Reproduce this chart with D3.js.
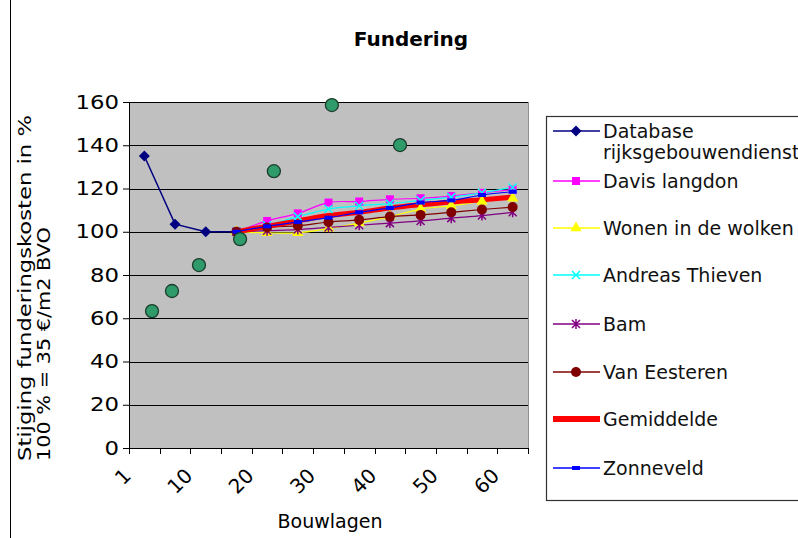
<!DOCTYPE html>
<html>
<head>
<meta charset="utf-8">
<script src="https://cdnjs.cloudflare.com/ajax/libs/d3/7.8.5/d3.min.js"></script>
<style>
  body { margin: 0; background: #fff; }
  svg { font-family: "DejaVu Sans", Verdana, sans-serif; }
</style>
</head>
<body>
<div id="vis"></div>
<script>
// data
const CATEGORIES = ["1", "5", "10", "15", "20", "25", "30", "35", "40", "45", "50", "55", "60"];
const TICK_LABELS = ["1", "10", "20", "30", "40", "50", "60"];
const Y_TICKS = [0, 20, 40, 60, 80, 100, 120, 140, 160];

const DATABASE     = [135, 103.5, 100, 100, null, null, null, null, null, null, null, null, null];
const DAVIS        = [null, null, null, 100, 105, 108.5, 113.5, 114, 115, 115.5, 116.5, 118, 119.5];
const WONEN        = [null, null, null, 100, 99.5, 99.5, 101.5, 104, 107, 110.5, 112, 114, 115.5];
const ANDREAS      = [null, null, null, 100, 103, 107, 110.5, 112, 113, 114.5, 116, 118, 120.5];
const BAM          = [null, null, null, 100, 100.5, 101, 102, 103, 104, 105, 106.3, 107.5, 109];
const VAN_EESTEREN = [null, null, null, 100, 102, 102.8, 104.5, 105.5, 107, 107.8, 109, 110.3, 111.4];
const GEMIDDELDE   = [null, null, null, 100, 102.5, 105, 107.5, 109, 111, 112.5, 113.8, 114.8, 116];
const ZONNEVELD    = [null, null, null, 100, 102.5, 104.5, 106.5, 109, 111, 113.5, 114.5, 117, 118.5];

// loose green points (position in category units, value)
const GREEN_X = [0.25, 0.9, 1.78, 3.12, 4.22, 6.11, 8.33];
const GREEN_Y = [63.3, 72.6, 84.6, 96.6, 128, 158.6, 140.1];

const WIDTH = 798, HEIGHT = 538;
const PLOT = {left: 129, right: 528, top: 102, bottom: 448};

const svg = d3.select("#vis").append("svg")
    .attr("width", WIDTH)
    .attr("height", HEIGHT);

// left frame line
svg.append("line").attr("x1", 10.5).attr("x2", 10.5).attr("y1", 0).attr("y2", HEIGHT)
    .attr("stroke", "#000").attr("stroke-width", 1);

const X = d3.scaleBand().domain(CATEGORIES).range([PLOT.left, PLOT.right]).paddingInner(0).paddingOuter(0);
const XC = (i) => X(CATEGORIES[i]) + X.bandwidth() / 2;
const XS = d3.scaleLinear().domain([-0.5, CATEGORIES.length - 0.5]).range([PLOT.left, PLOT.right]);
const Y = d3.scaleLinear().domain([0, 160]).range([PLOT.bottom, PLOT.top]);

// plot background
svg.append("rect")
    .attr("x", PLOT.left).attr("y", PLOT.top)
    .attr("width", PLOT.right - PLOT.left).attr("height", PLOT.bottom - PLOT.top)
    .attr("fill", "#c0c0c0");
svg.append("line").attr("x1", PLOT.right + 0.5).attr("x2", PLOT.right + 0.5)
    .attr("y1", PLOT.top).attr("y2", PLOT.bottom).attr("stroke", "#909090");

// gridlines
svg.append("g").selectAll("line").data(Y_TICKS.filter(d => d > 0)).enter().append("line")
    .attr("x1", PLOT.left).attr("x2", PLOT.right)
    .attr("y1", d => Math.round(Y(d)) + 0.5).attr("y2", d => Math.round(Y(d)) + 0.5)
    .attr("stroke", "#000").attr("stroke-width", 1.2);

// y axis
const yAxis = svg.append("g")
    .attr("transform", "translate(" + PLOT.left + ",0)")
    .call(d3.axisLeft(Y).tickValues(Y_TICKS).tickSize(6).tickPadding(4));
yAxis.selectAll("text").attr("font-size", "19px").attr("fill", "#000")
    .attr("font-family", "DejaVu Sans")
    .attr("textLength", d => String(d).length * 14.5)
    .attr("lengthAdjust", "spacingAndGlyphs");
yAxis.selectAll("line, path").attr("stroke", "#000");

// x axis: ticks between categories
const xEdges = d3.range(CATEGORIES.length + 1);
svg.append("line").attr("x1", PLOT.left).attr("x2", PLOT.right)
    .attr("y1", PLOT.bottom + 0.5).attr("y2", PLOT.bottom + 0.5).attr("stroke", "#000");
svg.append("g").selectAll("line").data(xEdges).enter().append("line")
    .attr("x1", d => Math.round(XS(d - 0.5)) + 0.5).attr("x2", d => Math.round(XS(d - 0.5)) + 0.5)
    .attr("y1", PLOT.bottom).attr("y2", PLOT.bottom + 6)
    .attr("stroke", "#000");
svg.append("g").selectAll("text").data(TICK_LABELS).enter().append("text")
    .attr("transform", d => {
        const i = CATEGORIES.indexOf(d);
        return "translate(" + (XC(i) - 17) + "," + (PLOT.bottom + 24) + ") rotate(-45)";
    })
    .attr("text-anchor", "end")
    .attr("dy", "0.35em")
    .attr("font-size", "20px")
    .text(d => d);

// axis titles
svg.append("text").attr("x", 330).attr("y", 528).attr("text-anchor", "middle")
    .attr("font-size", "19px").text("Bouwlagen");
svg.append("text").attr("transform", "translate(31,461) rotate(-90)")
    .attr("font-size", "17px").attr("textLength", 346).attr("lengthAdjust", "spacingAndGlyphs")
    .text("Stijging funderingskosten in %");
svg.append("text").attr("transform", "translate(50,461) rotate(-90)")
    .attr("font-size", "17px").attr("textLength", 234).attr("lengthAdjust", "spacingAndGlyphs")
    .text("100 % = 35 €/m2 BVO");

// title
svg.append("text").attr("x", 411).attr("y", 46).attr("text-anchor", "middle")
    .attr("font-size", "20px").attr("font-weight", "bold").text("Fundering");

// series
const SERIES = [
    {name: ["Database", "rijksgebouwendienst"], values: DATABASE, color: "#000080", width: 1.5, marker: "diamond", mcolor: "#000080", straight: true},
    {name: ["Davis langdon"], values: DAVIS, color: "#ff00ff", width: 1.2, marker: "square", mcolor: "#ff00ff"},
    {name: ["Wonen in de wolken"], values: WONEN, color: "#ffff00", width: 1.2, marker: "triangle", mcolor: "#ffff00"},
    {name: ["Andreas Thieven"], values: ANDREAS, color: "#00ffff", width: 1.2, marker: "x", mcolor: "#00ffff"},
    {name: ["Bam"], values: BAM, color: "#800080", width: 1.2, marker: "star", mcolor: "#800080"},
    {name: ["Van Eesteren"], values: VAN_EESTEREN, color: "#800000", width: 1.2, marker: "circle", mcolor: "#800000"},
    {name: ["Gemiddelde"], values: GEMIDDELDE, color: "#ff0000", width: 5, marker: null},
    {name: ["Zonneveld"], values: ZONNEVELD, color: "#0000ff", width: 1.2, marker: "dash", mcolor: "#0000ff"}
];

function drawMarker(g, type, x, y, color) {
    if (type === "diamond") {
        g.append("path").attr("d", "M0,-5.5L5.5,0L0,5.5L-5.5,0Z")
            .attr("transform", "translate(" + x + "," + y + ")").attr("fill", color);
    } else if (type === "square") {
        g.append("rect").attr("x", x - 4).attr("y", y - 4).attr("width", 8).attr("height", 8).attr("fill", color);
    } else if (type === "triangle") {
        g.append("path").attr("d", d3.symbol(d3.symbolTriangle, 55)())
            .attr("transform", "translate(" + x + "," + y + ")").attr("fill", color);
    } else if (type === "x") {
        g.append("path").attr("d", "M-4,-4L4,4M-4,4L4,-4")
            .attr("transform", "translate(" + x + "," + y + ")").attr("stroke", color).attr("stroke-width", 1.5);
    } else if (type === "star") {
        g.append("path").attr("d", "M-4,-4L4,4M-4,4L4,-4M0,-5L0,5")
            .attr("transform", "translate(" + x + "," + y + ")").attr("stroke", color).attr("stroke-width", 1.5);
    } else if (type === "circle") {
        g.append("circle").attr("cx", x).attr("cy", y).attr("r", 5).attr("fill", color);
    } else if (type === "dash") {
        g.append("rect").attr("x", x - 4).attr("y", y - 2).attr("width", 8).attr("height", 4).attr("fill", color);
    }
}

const smoothLine = d3.line()
    .defined(d => d.v !== null)
    .x(d => XC(d.i))
    .y(d => Y(d.v))
    .curve(d3.curveCatmullRom.alpha(0.5));
const straightLine = d3.line()
    .defined(d => d.v !== null)
    .x(d => XC(d.i))
    .y(d => Y(d.v));

const gLines = svg.append("g");
const gMarks = svg.append("g");
SERIES.forEach(s => {
    const pts = s.values.map((v, i) => ({i: i, v: v}));
    gLines.append("path").datum(pts)
        .attr("d", s.straight ? straightLine : smoothLine)
        .attr("fill", "none")
        .attr("stroke", s.color)
        .attr("stroke-width", s.width);
    if (s.marker) {
        pts.filter(d => d.v !== null).forEach(d => drawMarker(gMarks, s.marker, XC(d.i), Y(d.v), s.mcolor));
    }
});

// green points
svg.append("g").selectAll("circle").data(GREEN_X).enter().append("circle")
    .attr("cx", d => XS(d))
    .attr("cy", (d, i) => Y(GREEN_Y[i]))
    .attr("r", 6.5)
    .attr("fill", "#2f9a6a")
    .attr("stroke", "#1d3d2c")
    .attr("stroke-width", 1.3);

// legend
svg.append("rect").attr("x", 546.5).attr("y", 116.5).attr("width", 270).attr("height", 384)
    .attr("fill", "#fff").attr("stroke", "#333").attr("stroke-width", 1.2);
const LEG_Y = [131, 181, 228, 275, 324, 372, 419, 468];
const gLeg = svg.append("g");
SERIES.forEach((s, k) => {
    const y = LEG_Y[k];
    gLeg.append("line").attr("x1", 553).attr("x2", 600).attr("y1", y).attr("y2", y)
        .attr("stroke", s.color).attr("stroke-width", s.width === 5 ? 6 : 1.3);
    if (s.marker) drawMarker(gLeg, s.marker, 576, y, s.mcolor);
    s.name.forEach((t, j) => {
        gLeg.append("text").attr("x", 603).attr("y", y + 7 + j * 21)
            .attr("font-size", "19px").attr("fill", "#111").text(t);
    });
});
</script>
</body>
</html>
